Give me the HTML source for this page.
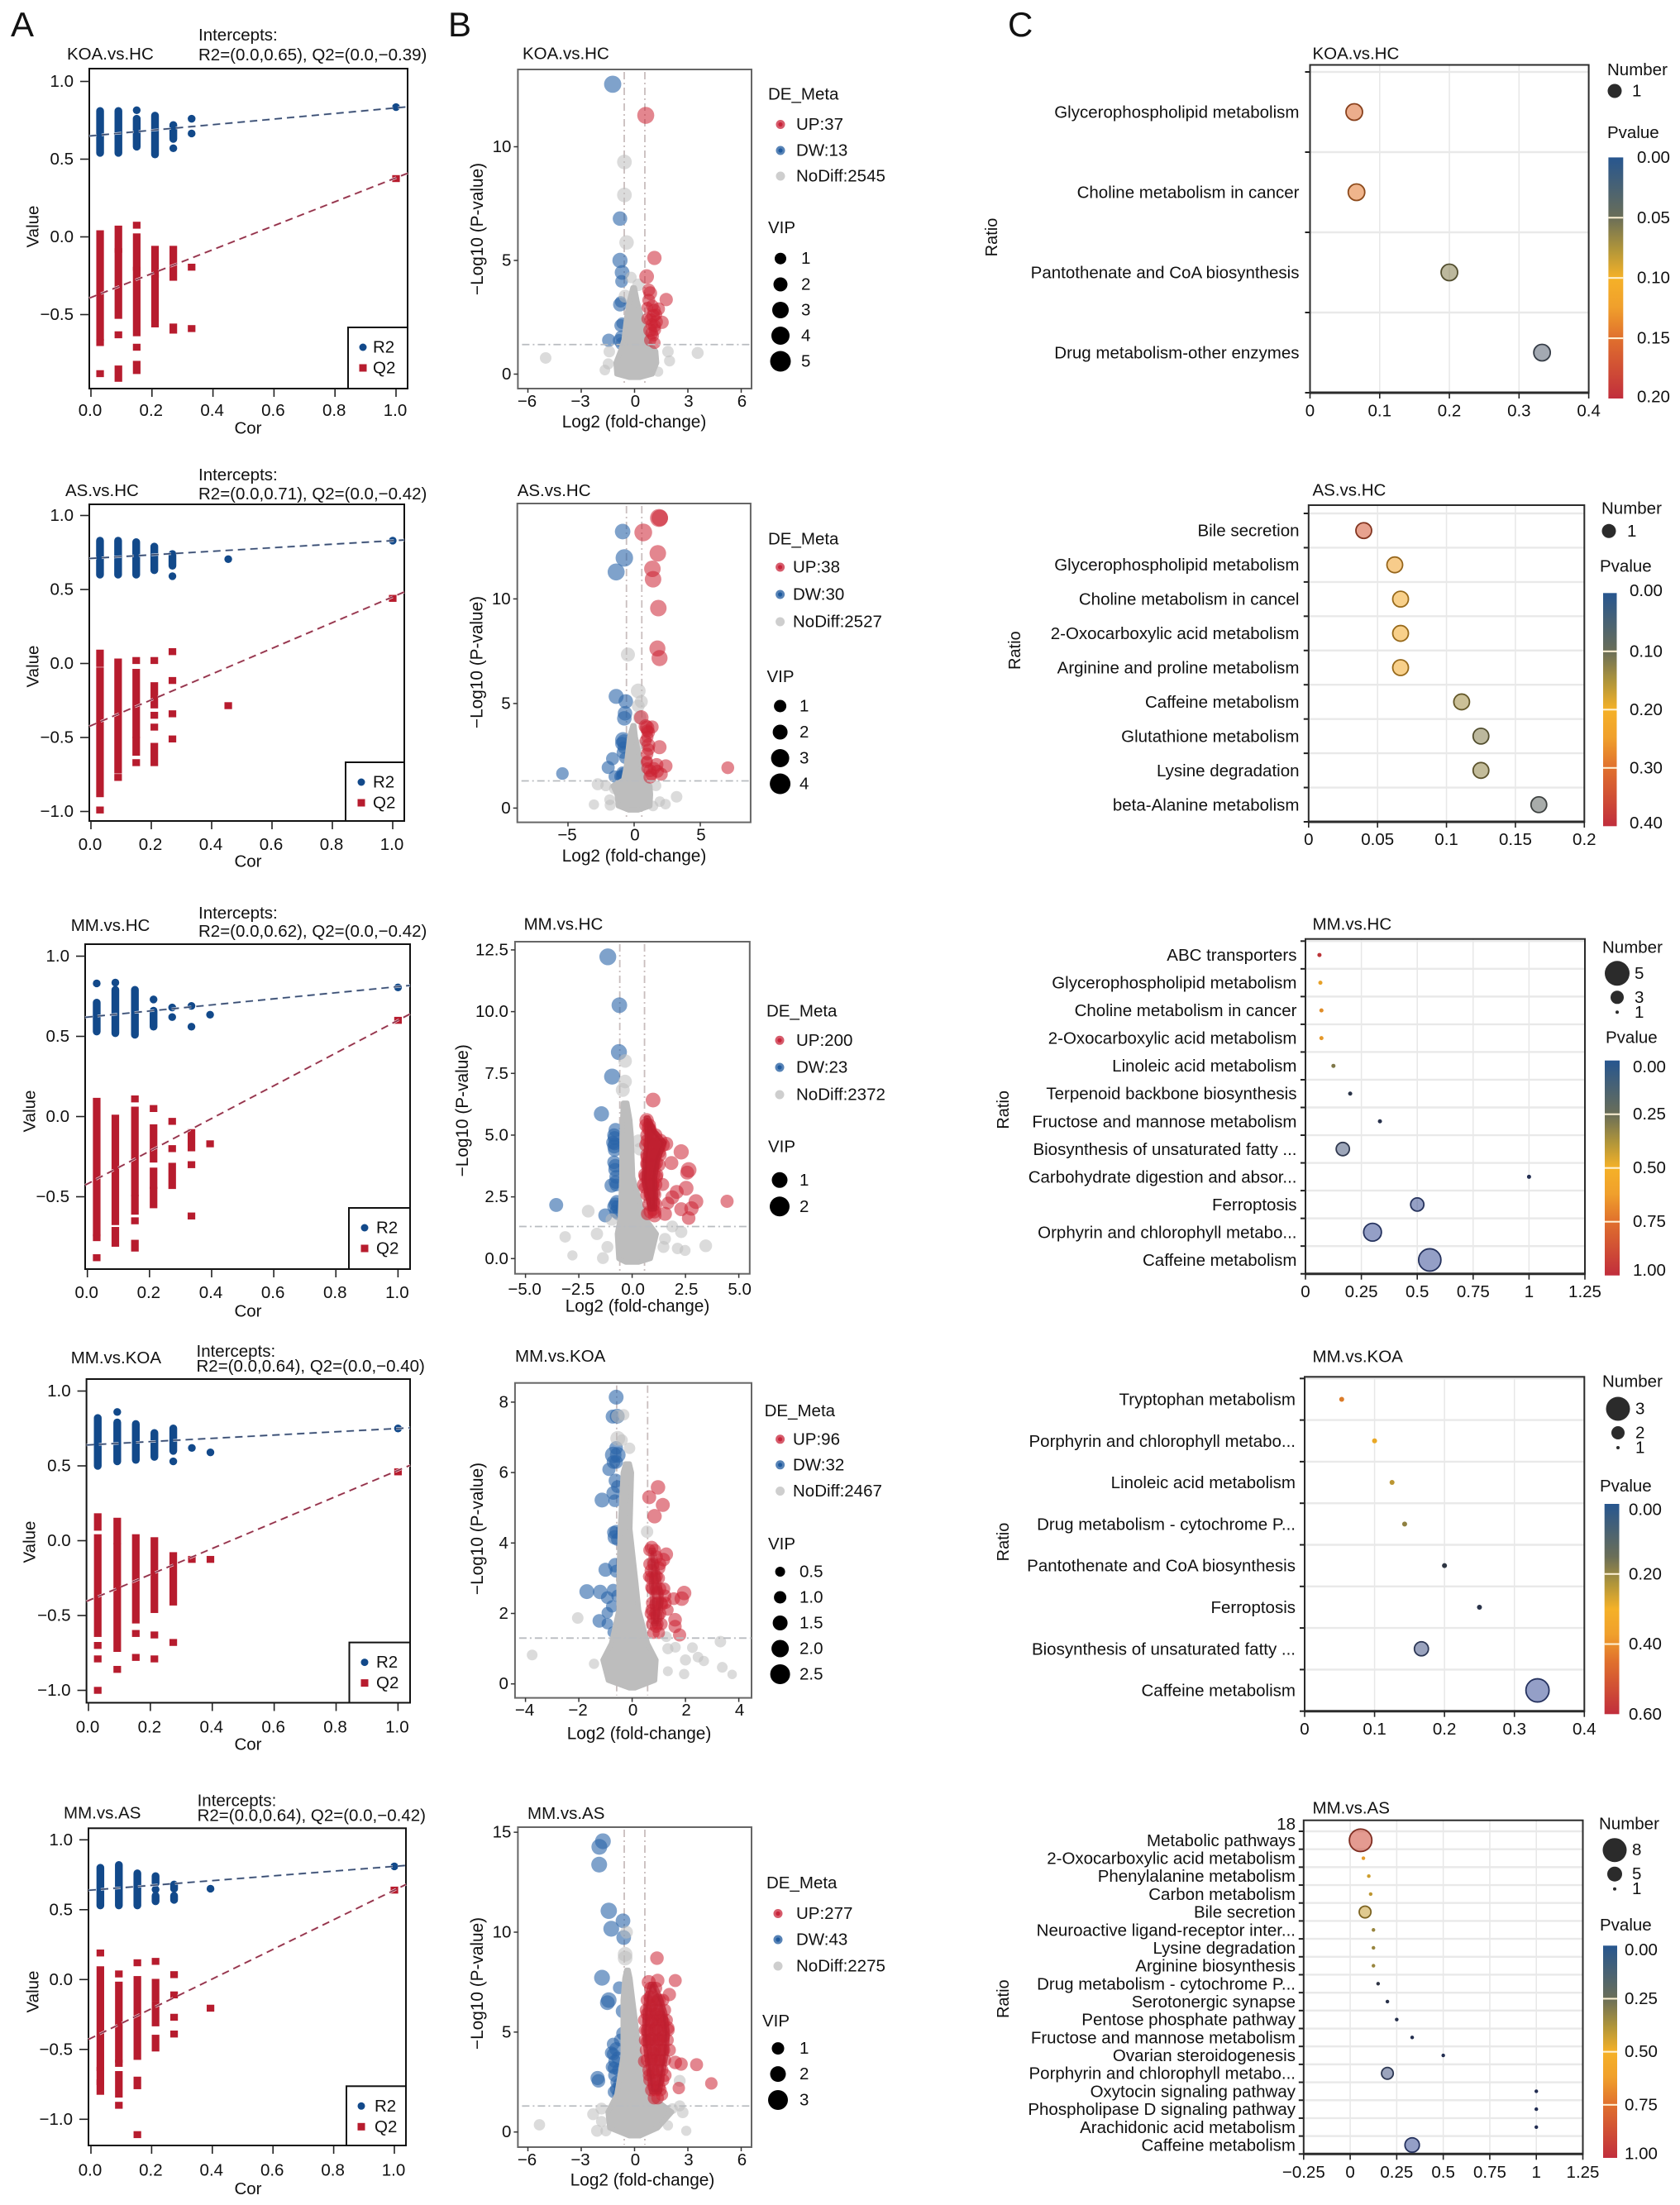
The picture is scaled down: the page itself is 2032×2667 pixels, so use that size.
<!DOCTYPE html>
<html lang="en">
<head>
<meta charset="utf-8">
<title>Metabolomics panels</title>
<style>
html,body{margin:0;padding:0;background:#fff}
svg{display:block}
text{font-family:"Liberation Sans",sans-serif;fill:#111}
</style>
</head>
<body>
<svg id="fig" xmlns="http://www.w3.org/2000/svg" width="2032" height="2667" viewBox="0 0 2032 2667">
<defs>
<linearGradient id="pGrad" x1="0" y1="0" x2="0" y2="1">
<stop offset="0" stop-color="#27568f"/><stop offset="0.25" stop-color="#6a6e58"/><stop offset="0.38" stop-color="#b0953a"/><stop offset="0.5" stop-color="#f5b128"/><stop offset="0.62" stop-color="#f0a02c"/><stop offset="0.75" stop-color="#e0702d"/><stop offset="1" stop-color="#c12e3c"/>
</linearGradient>
</defs>
<rect x="0" y="0" width="2032" height="2667" fill="#fff"/>
<text x="13" y="44" font-size="42">A</text>
<text x="542" y="44" font-size="42">B</text>
<text x="1219" y="44" font-size="42">C</text>
</svg>
<script>
/* ---------- Panel A: permutation test values ---------- */
const corKoaHc=[.03,.09,.15,.21,.27,.33,1];
const r2KoaHc=[[[.54,.81]],[[.54,.81]],[[.815,.815],[.58,.76]],[[.53,.78]],[[.63,.72],[.57,.57]],[[.76,.76],[.665,.665]],[[.835,.835]]];
const q2KoaHc=[[[-.645,.02],[-.68,-.68],[-.88,-.88]],[[-.08,.05],[-.505,-.095],[-.63,-.63],[-.91,-.85]],[[.075,.075],[-.195,0],[-.617,-.215],[-.71,-.71],[-.86,-.82]],[[-.24,-.08],[-.52,-.265],[-.56,-.56]],[[-.26,-.08],[-.6,-.58]],[[-.195,-.195],[-.59,-.59]],[[.375,.375]]];
const r2FitKoaHc=[.65,.83];
const q2FitKoaHc=[-.39,.38];

const corAsHc=[.03,.09,.15,.21,.27,.455,1];
const r2AsHc=[[[.6,.83]],[[.6,.83]],[[.6,.82]],[[.63,.79]],[[.66,.74],[.59,.59]],[[.705,.705]],[[.83,.83]]];
const q2AsHc=[[[0,.07],[-.88,-.05],[-.99,-.99]],[[-.72,.01],[-.77,-.77]],[[.02,.02],[-.48,-.06],[-.6,-.52],[-.67,-.67]],[[.02,.02],[-.28,-.15],[-.35,-.35],[-.43,-.43],[-.67,-.56]],[[.08,.08],[-.115,-.115],[-.34,-.34],[-.51,-.51]],[[-.285,-.285]],[[.44,.44]]];
const r2FitAsHc=[.71,.83];
const q2FitAsHc=[-.42,.45];

const corMmHc=[.03,.09,.153,.213,.273,.335,.395,1];
const r2MmHc=[[[.83,.83],[.53,.71]],[[.835,.835],[.52,.79]],[[.51,.79]],[[.73,.73],[.56,.66]],[[.68,.68],[.62,.62]],[[.69,.69],[.56,.56]],[[.635,.635]],[[.805,.805]]];
const q2MmHc=[[[-.725,.095],[-.755,-.755],[-.88,-.88]],[[-.655,-.01],[-.79,-.71]],[[.11,.11],[-.475,.04],[-.59,-.51],[-.65,-.65],[-.82,-.79]],[[.05,.05],[-.265,-.07],[-.43,-.34],[-.55,-.46]],[[-.03,-.03],[-.2,-.2],[-.43,-.31]],[[-.195,-.1],[-.3,-.3],[-.62,-.62]],[[-.17,-.17]],[[.6,.6]]];
const r2FitMmHc=[.62,.81];
const q2FitMmHc=[-.42,.6];

const corMmKoa=[.03,.093,.153,.213,.274,.334,.394,1];
const r2MmKoa=[[[.5,.82]],[[.86,.86],[.53,.79]],[[.54,.78]],[[.56,.72]],[[.6,.75],[.53,.53]],[[.62,.62]],[[.59,.59]],[[.75,.75]]];
const q2MmKoa=[[[.09,.16],[-.62,.02],[-.7,-.7],[-.79,-.79],[-1,-1]],[[0,.13],[-.72,-.04],[-.86,-.86]],[[-.53,.02],[-.62,-.62],[-.78,-.78]],[[-.46,0],[-.63,-.63],[-.79,-.79]],[[-.41,-.1],[-.68,-.68]],[[-.125,-.125]],[[-.125,-.125]],[[.46,.46]]];
const r2FitMmKoa=[.64,.75];
const q2FitMmKoa=[-.4,.47];

const corMmAs=[.031,.092,.153,.213,.274,.394,1];
const r2MmAs=[[[.53,.8]],[[.53,.82]],[[.53,.76]],[[.69,.74],[.645,.645],[.56,.6]],[[.65,.68],[.57,.6]],[[.65,.65]],[[.81,.81]]];
const q2MmAs=[[[.19,.19],[-.63,.07],[-.73,-.65],[-.8,-.74]],[[.04,.04],[-.57,-.04],[-.6,-.6],[-.82,-.68],[-.9,-.9]],[[.12,.12],[-.55,0],[-.76,-.72],[-1.11,-1.11]],[[.13,.13],[-.13,-.02],[-.31,-.18],[-.49,-.42]],[[.035,.035],[-.11,-.11],[-.27,-.27],[-.39,-.39]],[[-.205,-.205]],[[.64,.64]]];
const r2FitMmAs=[.64,.81];
const q2FitMmAs=[-.42,.64];

const corTicks=[0,.2,.4,.6,.8,1];
const valueTicksShort=[1,.5,0,-.5];
const valueTicksLong=[1,.5,0,-.5,-1];

/* ---------- Panel B: volcano values, each point [log2FC, -log10P, VIP] ---------- */
const upKoaHc=[[.63,11.38,3.4],[1.12,5.11,2.2],[.68,4.29,2.4],[1.78,3.28,1.8],[.88,3.56,2],[.8,3.25,1.6],[1.1,2.8,1.8],[1.35,2.87,1.6],[1.05,2.56,2],[1.55,2.28,1.8],[1.22,2.3,1.8],[.88,1.93,2],[1.13,2.12,1.6],[.97,1.8,1.6],[.88,1.49,1.3],[1.13,1.37,1.2],[.72,2.93,1],[.72,2.43,1.2],[1.05,1.68,1],[.97,2.18,1.4],[1.22,2.62,1.2],[.8,3.7,1.6],[1,3,1.5],[.9,2.4,1.5],[1.15,1.95,1.3]];
const dwKoaHc=[[-1.23,12.75,3.5],[-.82,6.84,2.3],[-.82,5,2.6],[-.7,4.47,2.4],[-.73,4.08,1.5],[-.82,3.06,2],[-.78,2.14,1.5],[-.75,1.65,1.3],[-1.45,1.49,1.8],[-.73,1.34,1.5],[-.87,1.49,1.4],[-.7,2.24,1],[-.78,3.18,1]];
const nsKoaHc=[[-.57,9.33,2.4],[-.57,7.88,2.4],[-.45,5.79,2.3],[-.2,4.25,1],[.22,3.93,1.4],[-.53,3.43,1.6],[-5,.71,1],[3.55,.93,1.2],[1.88,.99,1],[1.97,.58,.8],[-1.42,.99,1],[-1.48,.45,.8],[-1.67,.18,.6],[1.33,.11,.4]];
const massKoaHc=[[-.15,-.3,.3],[0,-1,1],[.5,-1.05,1.25],[1,-.8,1.2],[1.5,-.6,.7],[2.5,-.45,.4],[3.2,-.3,.15],[3.8,-.1,0]];

const upAsHc=[[1.88,13.87,3.6],[1.94,13.87,3],[.69,13.18,3.5],[1.79,12.18,3],[1.38,11.44,3],[1.43,10.94,3],[1.83,9.56,3],[1.76,7.63,2.8],[1.92,7.17,2.8],[7.08,1.93,1.5],[.54,4.33,2.2],[1.36,3.88,1.6],[.98,3.84,2.2],[.87,3.91,2],[1.09,3.63,1.6],[1.92,2.91,2],[1.09,3.01,1.8],[.98,2.59,1.4],[.98,2.25,1],[1.7,2.07,1.8],[2.39,2.01,1.8],[1.2,1.79,1.6],[1.76,1.76,1.6],[2.05,1.62,1.6],[1.2,1.48,1.6],[.87,3.22,1.2],[1,3.4,1.3],[1.1,2.8,1.3],[.95,2.2,1.2],[1,1.9,1.2],[1.3,1.6,1.3],[1.5,1.9,1.4],[1,3.7,1.4]];
const dwAsHc=[[-.87,13.22,2.6],[-.74,11.96,3.4],[-1.36,11.29,3.2],[-1.36,5.34,2.4],[-.63,5.1,2.2],[-.69,4.53,2.2],[-.74,4.29,2.2],[-.85,3.26,2.6],[-.76,3.18,2.2],[-.92,3.08,1.8],[-.85,2.66,1.4],[-1.63,2.36,1.6],[-1.96,1.94,1.6],[-.87,1.69,1.4],[-1.03,1.51,1.4],[-1.47,1.51,1.3],[-5.42,1.65,1.4],[-.69,2.39,1],[-.8,2.9,1.2],[-.95,1.5,1.2],[-.85,1.55,1.2],[-.8,1.65,1.2]];
const nsAsHc=[[-.47,7.34,2],[.31,5.6,2.3],[.54,5.09,1.6],[.31,4.88,1.5],[.42,4.33,1.8],[.42,3,1],[-2.75,1.14,1.2],[3.21,.54,1],[-3.04,.17,.5],[-1.81,.14,.8],[1.94,.31,.6],[2.37,.19,.6],[-1.85,.4,.7],[1.43,.1,.6],[1.65,1.07,.7],[-1.47,.93,.9],[-2.14,1.07,.8]];
const massAsHc=[[-.1,-.4,.3],[.1,-1.2,1.2],[.65,-1.3,1.25],[1.07,-1.6,1.2],[1.35,-.8,.7],[2,-.6,.55],[3.4,-.35,.1],[3.95,-.1,0]];

const upMmHc=[[.98,6.42,1.5],[.68,5.6,1.4],[.78,5.27,1.4],[.98,4.93,1.4],[1.33,4.77,1.3],[1.6,4.65,1.3],[.84,4.65,1.3],[1.19,4.43,1.3],[2.3,4.32,1.6],[.98,4.21,1.3],[.71,3.87,1.3],[1.12,3.87,1.3],[1.84,3.87,1.3],[2.65,3.59,1.7],[2.58,3.48,1.3],[.84,3.54,1.3],[.64,3.31,1.3],[1.12,3.31,1.3],[.91,2.98,1.3],[1.43,3,1.1],[2.53,2.85,1.5],[.98,2.65,1.3],[2.09,2.7,1.3],[1.88,2.48,1.3],[.98,2.31,1.3],[2.99,2.31,1.5],[4.45,2.32,1.1],[1.68,2.25,1],[.98,1.98,1],[2.3,2,1.3],[2.78,2.03,1.4],[2.65,1.64,1.2],[1.05,1.75,1.3],[1.54,1.81,1.3],[.71,1.81,1],[.57,2.87,.7],[.71,4.1,1.2],[.84,3.31,1.2],[.98,3.76,1.2],[1.26,4.32,1.2],[.71,4.77,1.2],[.98,2.98,1],[.84,2.65,1],[.84,5.21,1.2],[.65,5.4,1.2],[.8,5.4,1.2],[.7,5,1.2],[.9,5,1.2],[1.1,5,1.2],[.65,4.6,1.2],[.85,4.6,1.2],[1.05,4.6,1.2],[1.3,4.6,1.2],[1.45,4.6,1.2],[.7,4.2,1.2],[.9,4.2,1.2],[1.1,4.2,1.2],[1.3,4.2,1.2],[.7,3.8,1.2],[.9,3.8,1.2],[1.05,3.8,1.2],[1.25,3.8,1.2],[.6,3.4,1.2],[.8,3.4,1.2],[1,3.4,1.2],[1.15,3.4,1.2],[.55,3,1.2],[.75,3,1.2],[.95,3,1.2],[1.1,3,1.2],[.7,2.6,1.2],[.85,2.6,1.2],[1.05,2.6,1.2],[.8,2.2,1.2],[1,2.2,1.2],[1.1,2.2,1.2],[.85,1.9,1.2],[1.05,1.9,1.2]];
const dwMmHc=[[-1.14,12.22,2],[-.6,10.26,1.7],[-.62,8.36,1.8],[-.94,7.37,1.8],[-1.44,5.86,1.6],[-3.56,2.17,1.3],[-.78,5.21,1.3],[-.82,4.88,1.3],[-.84,4.54,1.3],[-.79,3.76,1.2],[-.75,3.31,1.2],[-.96,2.96,1.4],[-.79,2.2,1.2],[-.68,2.09,1.2],[-1.26,1.75,1.3],[-.65,1.81,1],[-.82,4.65,1.1],[-.75,2.98,1],[-.85,5,1.2],[-.9,4.7,1.2],[-.82,4.4,1.2],[-.8,3.6,1.2],[-.85,3.9,1.2],[-.78,3.1,1.2],[-.72,2.3,1.2],[-.85,2.1,1.2],[-.75,1.9,1.2]];
const nsMmHc=[[-.33,8,1.2],[-.33,7.17,1.2],[-.44,6.83,1.3],[-2.06,1.92,1],[-3.14,.88,.7],[-1.65,1,.9],[-1.16,.47,.8],[-2.8,.13,.4],[-1.37,.02,.8],[3.45,.52,1],[2.13,.41,.7],[2.48,.33,.6],[2.3,1.08,.9],[1.88,1.3,.8],[1.54,.8,.8],[1.47,.47,.8],[.36,4.43,1],[.29,4.77,1],[-.96,1.58,.9]];
const massMmHc=[[-.15,-.3,.3],[0,-.63,.86],[1,-.7,1.14],[1.65,-.56,.59],[3.3,-.49,.03],[5,-.48,-.04],[5.6,-.45,-.1],[6.3,-.42,-.24]];
const upCoreMmHc=[[2,.85,1.05],[2.6,.7,1.1],[3.2,.55,1.05],[4,.6,1.2],[4.7,.7,1.5],[5.2,.7,1],[5.7,.65,.75]];

const upMmKoa=[[.97,5.58,1.7],[.64,5.3,1.6],[1.15,5.08,1.6],[.84,4.76,1.7],[.73,3.87,1.5],[.9,3.6,1.5],[1.28,3.68,1.5],[1.17,3.53,1.5],[.73,3.21,1.6],[1,3.29,1.4],[.9,3.05,1.4],[.73,2.74,1.3],[.95,2.58,1.5],[1.95,2.58,1.7],[1.23,2.5,1.3],[1.56,2.42,1.3],[1.86,2.42,1.7],[.9,2.26,1.6],[.95,1.94,1.6],[.73,2.1,1.2],[1.61,1.82,1.5],[1.61,1.63,1.4],[1.78,1.39,1.4],[.9,1.63,1.3],[1.34,2.1,1],[.62,3.05,1],[.79,1.87,1.2],[1.12,2.26,1.3],[.65,3.8,1.2],[.85,3.8,1.2],[.65,3.4,1.2],[.8,3.4,1.2],[1.05,3.4,1.2],[.7,3,1.2],[.85,3,1.2],[1,3,1.2],[.75,2.7,1.2],[.9,2.7,1.2],[1.05,2.7,1.2],[1.2,2.7,1.2],[.75,2.3,1.2],[.95,2.3,1.2],[1.1,2.3,1.2],[1.25,2.3,1.2],[.7,2,1.2],[.85,2,1.2],[1.05,2,1.2],[.75,1.7,1.2],[.95,1.7,1.2],[1.1,1.7,1.2],[.8,1.45,1.2],[1,1.45,1.2]];
const dwMmKoa=[[-.6,8.14,1.8],[-.73,7.59,1.6],[-.56,7.6,1.8],[-.71,6.5,2.2],[-.54,6.5,2],[-.87,6.09,1.4],[-.62,5.77,1.6],[-.71,5.42,1.5],[-1.13,5.22,1.8],[-.6,4.32,1.5],[-.65,4.16,1.7],[-1,3.24,1.6],[-.63,3.37,1.7],[-1.7,2.62,1.8],[-1.2,2.61,1.7],[-.71,2.66,1.3],[-.93,2.45,1.3],[-.93,2.02,1],[-1.23,1.79,1.5],[-.93,1.71,1],[-.71,1.47,1],[-.6,6.7,1.5],[-.7,6.3,1.5],[-.6,6.3,1.5],[-.55,5.6,1.3],[-.65,5.2,1.3],[-.55,4.1,1.3],[-.7,4.3,1.3],[-.6,3.2,1.3],[-.55,2.5,1.2],[-.75,2.2,1.2]];
const nsMmKoa=[[-.54,7.6,1.4],[-.32,7.64,1],[-.54,6.97,1.8],[-.38,6.92,1],[-.1,6.69,1],[.56,4.32,1.2],[-2.04,1.87,1],[-3.75,.82,.8],[3.31,1.2,1],[2.26,1.03,.8],[2.47,.76,.8],[2.69,.65,.7],[2,.68,.9],[3.38,.47,.8],[3.75,.27,.5],[1.95,.28,.7],[1.34,.36,.6],[-1.43,.57,.7],[1.34,1,.9],[1.62,1.04,.8],[1.28,1.34,.8]];
const massMmKoa=[[-.12,-.1,.1],[.1,-.9,.85],[.68,-1.1,.9],[1.15,-.78,.58],[2.1,-.5,.25],[2.9,-.5,.14],[4.4,-.45,-.08],[6,-.34,-.02],[6.25,-.25,-.1]];
const upCoreMmKoa=[[1.7,.8,1],[2.4,.75,1.1],[3.2,.7,.95],[3.8,.7,.8]];

const upMmAs=[[1.26,8.7,1.6],[.8,7.5,1.8],[1.3,7.58,1.6],[2.29,7.58,1.4],[.88,6.75,1.6],[1.96,6.88,1.5],[1.38,6.6,1.5],[.71,5.9,1.5],[1.21,5.9,1.5],[1.63,5.49,1.4],[.71,5.07,1.5],[1.21,5.21,1.5],[1.88,5.21,1.4],[.71,4.52,1.4],[1.38,4.66,1.4],[1.96,4.1,1.4],[.55,3.54,1.3],[1.05,3.96,1.4],[1.54,4.1,1.4],[2.29,3.48,1.6],[2.62,3.4,1.5],[3.49,3.37,1.4],[4.32,2.43,1.2],[2.49,2.2,1.2],[1.05,2.98,1.5],[1.71,2.84,1.5],[1.38,2.29,1.3],[1.54,1.87,1.2],[.96,6.32,1.4],[1.46,5.77,1.4],[.96,5.49,1.4],[1.63,4.79,1.4],[.96,4.66,1.4],[.96,3.68,1.4],[1.38,3.54,1.3],[.8,2.84,1],[1.05,2.29,1.1],[.9,7.2,1.3],[1.2,7.2,1.3],[.7,6.6,1.3],[1,6.6,1.3],[1.3,6.6,1.3],[1.6,6.6,1.3],[.65,6.1,1.3],[.9,6.1,1.3],[1.15,6.1,1.3],[1.4,6.1,1.3],[1.7,6.1,1.3],[.55,5.6,1.3],[.8,5.6,1.3],[1.05,5.6,1.3],[1.3,5.6,1.3],[1.55,5.6,1.3],[1.8,5.6,1.3],[.6,5.1,1.3],[.85,5.1,1.3],[1.1,5.1,1.3],[1.35,5.1,1.3],[1.6,5.1,1.3],[1.9,5.1,1.3],[.6,4.6,1.3],[.85,4.6,1.3],[1.1,4.6,1.3],[1.35,4.6,1.3],[1.6,4.6,1.3],[1.85,4.6,1.3],[.65,4.1,1.3],[.9,4.1,1.3],[1.15,4.1,1.3],[1.4,4.1,1.3],[1.65,4.1,1.3],[.7,3.6,1.3],[.95,3.6,1.3],[1.2,3.6,1.3],[1.45,3.6,1.3],[1.7,3.6,1.3],[.8,3.1,1.3],[1.05,3.1,1.3],[1.3,3.1,1.3],[1.55,3.1,1.3],[.85,2.6,1.3],[1.1,2.6,1.3],[1.35,2.6,1.3],[1.6,2.6,1.3],[.95,2.1,1.3],[1.2,2.1,1.3],[1.45,2.1,1.3],[1.1,1.7,1.3],[1.3,1.7,1.3]];
const dwMmAs=[[-1.78,14.55,2.4],[-1.98,14.27,2.4],[-1.99,13.38,2.4],[-1.45,11.07,2.6],[-1.31,10.17,2.4],[-.65,10.57,2],[-.61,9.73,2],[-1.83,7.72,2.4],[-1.45,6.6,2.3],[-1.53,6.47,2],[-.66,6.05,1.8],[-.86,7.22,1.3],[-.65,4.93,1.6],[-1.03,4.15,1.7],[-1.31,3.96,1.3],[-1.11,3.54,1.4],[-1.28,3.26,1.1],[-1.11,2.84,1.5],[-2.08,2.7,1.8],[-2.03,2.56,1.6],[-.78,2.2,1.6],[-1.03,2.15,1.2],[-.78,1.64,1],[-1.2,3.9,1.3],[-.95,3.7,1.3],[-1.15,3.2,1.3],[-.9,3.1,1.3],[-1,2.5,1.3],[-.85,2.4,1.3],[-1.15,2,1.3],[-.9,1.9,1.3],[-1.2,4.4,1.3],[-.8,4.6,1.3]];
const nsMmAs=[[-.53,8.89,2],[-.53,8.7,2],[-.45,10,1.3],[-5.35,.36,.8],[-2.11,.06,1],[-2.33,.89,1],[-1.86,1.17,1],[-1.61,.06,.7],[-1.86,.53,.7],[2.91,.06,.4],[2.71,.98,.9],[2.54,1.31,.7],[2.54,2.56,1],[1.88,.33,.4],[2.13,1.17,.6]];
const massMmAs=[[-.2,-.3,.3],[.2,-1.4,1.3],[1,-1.5,2.1],[1.87,-1,.8],[3.8,-.65,.3],[6.6,-.65,-.1],[7.7,-.55,-.25],[8.1,-.45,-.35]];
const upCoreMmAs=[[2,.95,1.4],[3,.8,1.6],[4,.65,1.8],[5,.55,1.85],[6,.6,1.7],[6.8,.7,1.4],[7.4,.9,1.1]];

/* ---------- Panel C: enrichment values ---------- */
const pathsKoaHc=["Glycerophospholipid metabolism","Choline metabolism in cancer","Pantothenate and CoA biosynthesis","Drug metabolism-other enzymes"];
const ratioKoaHc=[.0635,.0667,.2,.333];
const numberKoaHc=[1,1,1,1];
const pvalKoaHc=[.155,.145,.06,.03];
const pTicksKoaHc=[0,.05,.1,.15,.2];

const pathsAsHc=["Bile secretion","Glycerophospholipid metabolism","Choline metabolism in cancel","2-Oxocarboxylic acid metabolism","Arginine and proline metabolism","Caffeine metabolism","Glutathione metabolism","Lysine degradation","beta-Alanine metabolism"];
const ratioAsHc=[.04,.0625,.0667,.0667,.0667,.111,.125,.125,.167];
const numberAsHc=[1,1,1,1,1,1,1,1,1];
const pvalAsHc=[.34,.24,.22,.22,.22,.14,.12,.13,.08];
const pTicksAsHc=[0,.1,.2,.3,.4];

const pathsMmHc=["ABC transporters","Glycerophospholipid metabolism","Choline metabolism in cancer","2-Oxocarboxylic acid metabolism","Linoleic acid metabolism","Terpenoid backbone biosynthesis","Fructose and mannose metabolism","Biosynthesis of unsaturated fatty ...","Carbohydrate digestion and absor...","Ferroptosis","Orphyrin and chlorophyll metabo...","Caffeine metabolism"];
const ratioMmHc=[.0625,.0667,.0714,.0714,.125,.2,.333,.167,1,.5,.3,.556];
const numberMmHc=[1,1,1,1,1,1,1,3,1,3,4,5];
const pvalMmHc=[.97,.55,.65,.62,.3,.1,.07,.1,.03,.02,.01,.01];
const pTicksMmHc=[0,.25,.5,.75,1];

const pathsMmKoa=["Tryptophan metabolism","Porphyrin and chlorophyll metabo...","Linoleic acid metabolism","Drug metabolism - cytochrome P...","Pantothenate and CoA biosynthesis","Ferroptosis","Biosynthesis of unsaturated fatty ...","Caffeine metabolism"];
const ratioMmKoa=[.053,.1,.125,.143,.2,.25,.167,.333];
const numberMmKoa=[1,1,1,1,1,1,2,3];
const pvalMmKoa=[.42,.3,.25,.2,.08,.05,.04,.005];
const pTicksMmKoa=[0,.2,.4,.6];

const pathsMmAs=["Metabolic pathways","2-Oxocarboxylic acid metabolism","Phenylalanine metabolism","Carbon metabolism","Bile secretion","Neuroactive ligand-receptor inter...","Lysine degradation","Arginine biosynthesis","Drug metabolism - cytochrome P...","Serotonergic synapse","Pentose phosphate pathway","Fructose and mannose metabolism","Ovarian steroidogenesis","Porphyrin and chlorophyll metabo...","Oxytocin signaling pathway","Phospholipase D signaling pathway","Arachidonic acid metabolism","Caffeine metabolism"];
const ratioMmAs=[.056,.071,.1,.11,.08,.125,.125,.125,.15,.2,.25,.333,.5,.2,1,1,1,.333];
const numberMmAs=[8,1,1,1,4,1,1,1,1,1,1,1,1,4,1,1,1,5];
const pvalMmAs=[.9,.6,.45,.42,.42,.35,.35,.35,.12,.08,.06,.04,.03,.08,.02,.02,.02,.01];
const pTicksMmAs=[0,.25,.5,.75,1];

/* ---------- helpers ---------- */
const NS='http://www.w3.org/2000/svg';
const fig=document.getElementById('fig');
function mark(tag,attrs,parent,name,interactable){
  const el=document.createElementNS(NS,tag);
  for(const k in attrs){el.setAttribute(k,attrs[k]);}
  
  
  parent.appendChild(el);
  return el;
}
function label(parent,str,x,y,opts,name){
  const o=opts||{};
  const a={x:x,y:y,'font-size':o.size||20.5,'text-anchor':o.anchor||'start'};
  if(o.central){a['dominant-baseline']='central';}
  if(o.rot){a.transform='rotate(-90 '+x+' '+y+')';}
  const t=mark('text',a,parent,name,false);
  t.textContent=str;
  return t;
}
function group(name){return mark('g',{},fig,name,false);}
function linear(d0,p0,d1,p1){const k=(p1-p0)/(d1-d0);return v=>p0+(v-d0)*k;}
function fmt(v,dec){const s=Math.abs(v).toFixed(dec);return (v<0?'\u2212':'')+s;}

/* ---------- Panel A renderer ---------- */
function drawPerm(c){
  const g=group(c.id+'-permutation-plot');
  const [bx0,by0,bx1,by1]=c.box;
  const sx=linear(0,c.x0,1,c.x1), sy=linear(0,c.y0,1,c.y1);
  label(g,c.title,c.titleX,c.titleY,{},'plot-title');
  label(g,'Intercepts:',c.intX,c.intY[0],{},'intercepts-heading');
  label(g,'R2=(0.0,'+c.r2Fit[0].toFixed(2)+'), Q2=(0.0,'+fmt(c.q2Fit[0],2)+')',c.intX,c.intY[1],{},'intercepts-values');
  mark('rect',{x:bx0,y:by0,width:bx1-bx0,height:by1-by0,fill:'#fff',stroke:'#111','stroke-width':2},g,'plot-frame',false);
  corTicks.forEach(v=>{
    mark('line',{x1:sx(v),x2:sx(v),y1:by1,y2:by1+10,stroke:'#222','stroke-width':1.6},g,'x-tick',false);
    label(g,v.toFixed(1),sx(v)-1,c.xTickY,{anchor:'middle',central:true},'x-tick-label');
  });
  c.yTicks.forEach(v=>{
    mark('line',{x1:bx0-11,x2:bx0,y1:sy(v),y2:sy(v),stroke:'#222','stroke-width':1.6},g,'y-tick',false);
    label(g,fmt(v,1),bx0-19,sy(v),{anchor:'end',central:true},'y-tick-label');
  });
  label(g,'Cor',300,c.corY,{anchor:'middle',central:true},'x-axis-title');
  label(g,'Value',c.valueX,c.valueY,{anchor:'middle',central:true,rot:true},'y-axis-title');
  c.cor.forEach((x,i)=>{
    c.r2[i].forEach(seg=>{
      mark('rect',{x:sx(x)-4.7,y:sy(seg[1])-4.7,width:9.4,height:Math.abs(sy(seg[0])-sy(seg[1]))+9.4,rx:4.7,fill:'#12498a'},g,'r2-points',false);
    });
    c.q2[i].forEach(seg=>{
      mark('rect',{x:sx(x)-4.6,y:sy(seg[1])-4.2,width:9.2,height:Math.abs(sy(seg[0])-sy(seg[1]))+8.4,fill:'#b71c2e'},g,'q2-points',false);
    });
  });
  const xEnd=(bx1-c.x0)/(c.x1-c.x0);
  const fit=(f,col,halo,name)=>{
    const yAt=x=>sy(f[0]+(f[1]-f[0])*x);
    mark('line',{x1:bx0,y1:yAt((bx0-c.x0)/(c.x1-c.x0)),x2:bx1,y2:yAt(xEnd),stroke:halo,'stroke-width':3,'stroke-dasharray':'9 6'},g,name+'-halo',false);
    mark('line',{x1:bx0,y1:yAt((bx0-c.x0)/(c.x1-c.x0)),x2:bx1,y2:yAt(xEnd),stroke:col,'stroke-width':1.7,'stroke-dasharray':'9 6'},g,name,false);
  };
  fit(c.r2Fit,'#3a4c70','#dbe5f1','r2-regression-line');
  fit(c.q2Fit,'#8e2f48','#f9dde1','q2-regression-line');
  const lg=mark('g',{},g,'plot-legend',false);
  mark('rect',{x:c.leg[0],y:c.leg[1],width:bx1-c.leg[0],height:by1-c.leg[1],fill:'#fff',stroke:'#111','stroke-width':2},lg,'legend-box',false);
  const ly1=c.leg[1]+(c.leg[4]||24), ly2=ly1+25;
  mark('circle',{cx:c.leg[2],cy:ly1,r:4.5,fill:'#12498a'},lg,'legend-r2-marker',false);
  mark('rect',{x:c.leg[2]-4.5,y:ly2-4.5,width:9,height:9,fill:'#b71c2e'},lg,'legend-q2-marker',false);
  label(lg,'R2',c.leg[3],ly1,{central:true},'legend-r2-label');
  label(lg,'Q2',c.leg[3],ly2,{central:true},'legend-q2-label');
}

/* ---------- Panel B renderer ---------- */
function drawVolcano(c){
  const g=group(c.id+'-volcano-plot');
  const [bx0,by0,bx1,by1]=c.box;
  const sx=linear(0,c.xZero,1,c.xZero+c.xUnit), sy=linear(0,c.yZero,1,c.yZero-c.yUnit);
  const rr=v=>c.rBase+c.rStep*v;
  label(g,c.title,c.titleX,c.titleY,{},'plot-title');
  mark('rect',{x:bx0,y:by0,width:bx1-bx0,height:by1-by0,fill:'#fff',stroke:'#666','stroke-width':2},g,'plot-frame',false);
  c.xTicks.forEach(v=>{
    mark('line',{x1:sx(v),x2:sx(v),y1:by1,y2:by1+5,stroke:'#333','stroke-width':1.5},g,'x-tick',false);
    label(g,fmt(v,c.xDec),sx(v)+(v<0?-1:1),c.xTickY,{anchor:'middle',central:true},'x-tick-label');
  });
  c.yTicks.forEach(v=>{
    mark('line',{x1:bx0-5,x2:bx0,y1:sy(v),y2:sy(v),stroke:'#333','stroke-width':1.5},g,'y-tick',false);
    label(g,fmt(v,c.yDec),bx0-8,sy(v),{anchor:'end',central:true},'y-tick-label');
  });
  label(g,'Log2 (fold-change)',c.xTitle[0],c.xTitle[1],{anchor:'middle',central:true,size:20.8},'x-axis-title');
  label(g,'\u2212Log10 (P-value)',c.yTitle[0],c.yTitle[1],{anchor:'middle',central:true,rot:true,size:20.8},'y-axis-title');
  [-c.fc,c.fc].forEach(v=>{
    mark('line',{x1:sx(v),x2:sx(v),y1:by0+3,y2:by1-3,stroke:'#c9bebe','stroke-width':1.8,'stroke-dasharray':'9 4 2 4'},g,'fold-change-threshold',false);
  });
  c.dw.forEach(p=>{mark('circle',{cx:sx(p[0]),cy:sy(p[1]),r:rr(p[2]),fill:'#2a64a8','fill-opacity':.6},g,'down-point',false);});
  const envelope=m=>{
    const left=m.map(b=>sx(b[1])+','+sy(b[0]));
    const right=m.slice().reverse().map(b=>sx(b[2])+','+sy(b[0]));
    return left.concat(right).join(' ');
  };
  mark('polygon',{points:envelope(c.mass),fill:'#bdbdbd',stroke:'#bdbdbd','stroke-width':6,'stroke-linejoin':'round'},g,'nodiff-density',false);
  c.ns.forEach(p=>{mark('circle',{cx:sx(p[0]),cy:sy(p[1]),r:rr(p[2]),fill:'#bdbdbd','fill-opacity':.55},g,'nodiff-point',false);});
  c.up.forEach(p=>{mark('circle',{cx:sx(p[0]),cy:sy(p[1]),r:rr(p[2]),fill:'#cc2233','fill-opacity':.55},g,'up-point',false);});
  if(c.upCore){
    mark('polygon',{points:envelope(c.upCore),fill:'#bd1f30','fill-opacity':c.upCoreAlpha,stroke:'#bd1f30','stroke-opacity':c.upCoreAlpha,'stroke-width':6,'stroke-linejoin':'round'},g,'up-density',false);
  }
  mark('line',{x1:bx0+5,x2:bx1,y1:sy(c.pThresh),y2:sy(c.pThresh),stroke:'#b9bcc0','stroke-width':1.8,'stroke-dasharray':'9 4 2 4'},g,'p-value-threshold',false);
  const lg=mark('g',{},g,'plot-legend',false);
  label(lg,'DE_Meta',c.deX,c.deY,{},'legend-title-de-meta');
  const cols=['#c8243a','#1f5a9e','#bdbdbd'];
  c.deItems.forEach((t,i)=>{
    mark('circle',{cx:c.dotX,cy:c.itemY[i],r:5.5,fill:cols[i],'fill-opacity':.75},lg,'legend-de-marker',true);
    if(i<2){mark('circle',{cx:c.dotX,cy:c.itemY[i],r:2.6,fill:cols[i]},lg,'legend-de-marker-core',false);}
    label(lg,t,c.textX,c.itemY[i],{central:true},'legend-de-label');
  });
  label(lg,'VIP',c.vipX,c.vipY,{},'legend-title-vip');
  c.vipLabels.forEach((t,i)=>{
    mark('circle',{cx:c.dotX,cy:c.vipDots[i],r:c.vipR[i],fill:'#000'},lg,'legend-vip-marker',false);
    label(lg,t,c.vipTextX,c.vipDots[i],{central:true},'legend-vip-label');
  });
}

/* ---------- Panel C renderer ---------- */
const pStops=[[0,[58,80,155]],[.25,[106,110,88]],[.38,[176,149,58]],[.5,[245,177,40]],[.62,[240,160,44]],[.75,[224,112,45]],[1,[193,46,60]]];
function pColor(t,f){
  t=Math.max(0,Math.min(1,t));
  let i=0;
  while(i<pStops.length-2&&t>pStops[i+1][0]){i++;}
  const a=pStops[i],b=pStops[i+1],u=(t-a[0])/(b[0]-a[0]);
  const col=a[1].map((v,j)=>Math.round((v+(b[1][j]-v)*u)*f));
  return 'rgb('+col.join(',')+')';
}
function drawBubble(c){
  const g=group(c.id+'-enrichment-plot');
  const [bx0,by0,bx1,by1]=c.box;
  const sx=linear(c.xTicks[0],c.xPx[0],c.xTicks[c.xTicks.length-1],c.xPx[1]);
  const n=c.paths.length, band=(c.rowBottom-c.rowTop)/n;
  const sRow=i=>c.rowTop+band*(i+.5);
  const rr=v=>c.rBase+c.rStep*(v-1);
  const pMax=c.pTicks[c.pTicks.length-1];
  label(g,c.title,1587.5,c.titleY,{},'plot-title');
  mark('rect',{x:bx0,y:by0,width:bx1-bx0,height:by1-by0,fill:'#fff'},g,'plot-area',false);
  c.xTicks.forEach(v=>{
    mark('line',{x1:sx(v),x2:sx(v),y1:by0,y2:by1,stroke:'#e7e7e7','stroke-width':1.5},g,'vertical-gridline',false);
  });
  for(let i=0;i<=n;i++){
    const y=c.rowTop+band*i;
    mark('line',{x1:bx0,x2:bx1,y1:y,y2:y,stroke:'#e9e9e9','stroke-width':2.4},g,'horizontal-gridline',false);
    mark('line',{x1:bx0-6,x2:bx0,y1:y,y2:y,stroke:'#222','stroke-width':2},g,'y-tick',false);
  }
  mark('rect',{x:bx0,y:by0,width:bx1-bx0,height:by1-by0,fill:'none',stroke:'#2b2b2b','stroke-width':2},g,'plot-frame',false);
  mark('line',{x1:bx0,x2:bx1,y1:by1,y2:by1,stroke:'#2b2b2b','stroke-width':3},g,'x-axis-line',false);
  c.xTicks.forEach((v,i)=>{
    mark('line',{x1:sx(v),x2:sx(v),y1:by1,y2:by1+7,stroke:'#222','stroke-width':1.6},g,'x-tick',false);
    label(g,c.xLabels[i],sx(v),c.xTickY,{anchor:'middle',central:true},'x-tick-label');
  });
  c.paths.forEach((p,i)=>{
    label(g,p,c.labelRight,sRow(i)+.5,{anchor:'end',central:true},'pathway-label');
    const t=c.pval[i]/pMax;
    const r=rr(c.number[i]);
    if(r<4){
      mark('circle',{cx:sx(c.ratio[i]),cy:sRow(i),r:r,fill:pColor(t,t<.2?.55:.95)},g,'pathway-bubble',false);
    }else{
      mark('circle',{cx:sx(c.ratio[i]),cy:sRow(i),r:r,fill:pColor(t,1),'fill-opacity':.55,stroke:pColor(t,.62),'stroke-width':1.8},g,'pathway-bubble',false);
    }
  });
  if(c.extraTick){label(g,c.extraTick,c.labelRight,c.extraTickY,{anchor:'end',central:true},'y-tick-label');}
  label(g,'Ratio',c.ratioPos[0],c.ratioPos[1],{anchor:'middle',central:true,rot:true,size:20},'y-axis-title');
  const lg=mark('g',{},g,'plot-legend',false);
  label(lg,'Number',c.numX,c.numY,{},'legend-title-number');
  c.numLabels.forEach((t,i)=>{
    mark('circle',{cx:c.numDotX,cy:c.numDots[i],r:c.numR[i],fill:'#2b2b2b'},lg,'legend-number-marker',false);
    label(lg,t,c.numTextX,c.numDots[i],{central:true},'legend-number-label');
  });
  label(lg,'Pvalue',c.pvX,c.pvY,{},'legend-title-pvalue');
  const [cx0,cy0,cx1,cy1]=c.bar;
  const sp=linear(0,cy0,pMax,cy1);
  mark('rect',{x:cx0,y:cy0,width:cx1-cx0,height:cy1-cy0,fill:'url(#pGrad)'},lg,'pvalue-colorbar',false);
  c.pTicks.forEach((v,i)=>{
    if(i>0&&i<c.pTicks.length-1){
      mark('rect',{x:cx0,y:sp(v)-1,width:cx1-cx0,height:2,fill:'#fff3d6'},lg,'colorbar-tick',false);
    }
    let y=sp(v);
    if(i===0){y+=c.barNudge[0];}
    if(i===c.pTicks.length-1){y+=c.barNudge[1];}
    label(lg,v.toFixed(2),c.barTextX,y,{central:true},'colorbar-label');
  });
}

/* ---------- layout ---------- */
drawPerm({id:'koa-hc',title:'KOA.vs.HC',titleX:81,titleY:72,intX:240,intY:[49,73],box:[108,83,493,470],x0:110,x1:479,y0:286.5,y1:98.5,yTicks:valueTicksShort,xTickY:496.5,corY:518,valueX:40,valueY:274,cor:corKoaHc,r2:r2KoaHc,q2:q2KoaHc,r2Fit:r2FitKoaHc,q2Fit:q2FitKoaHc,leg:[421,396,439,451]});
drawPerm({id:'as-hc',title:'AS.vs.HC',titleX:79,titleY:600,intX:240,intY:[581,604],box:[108,610,489,993],x0:110,x1:475,y0:802.5,y1:623.5,yTicks:valueTicksLong,xTickY:1021.5,corY:1042,valueX:40,valueY:806,cor:corAsHc,r2:r2AsHc,q2:q2AsHc,r2Fit:r2FitAsHc,q2Fit:q2FitAsHc,leg:[418,922,437,451]});
drawPerm({id:'mm-hc',title:'MM.vs.HC',titleX:85.7,titleY:1126,intX:240,intY:[1111,1133],box:[103,1142,496,1535],x0:105.7,x1:481.4,y0:1350.5,y1:1156.5,yTicks:valueTicksShort,xTickY:1563.5,corY:1586,valueX:36,valueY:1344,cor:corMmHc,r2:r2MmHc,q2:q2MmHc,r2Fit:r2FitMmHc,q2Fit:q2FitMmHc,leg:[422,1461,441,455]});
drawPerm({id:'mm-koa',title:'MM.vs.KOA',titleX:85.7,titleY:1649,intX:237.5,intY:[1641,1659],box:[104.6,1668,496,2059.5],x0:107,x1:481.4,y0:1863.5,y1:1682.5,yTicks:valueTicksLong,xTickY:2089,corY:2110,valueX:36,valueY:1865,cor:corMmKoa,r2:r2MmKoa,q2:q2MmKoa,r2Fit:r2FitMmKoa,q2Fit:q2FitMmKoa,leg:[422.5,1986.6,441,455]});
drawPerm({id:'mm-as',title:'MM.vs.AS',titleX:77,titleY:2199.3,intX:238.6,intY:[2184.3,2202.7],box:[107,2211.3,491,2595],x0:110,x1:477,y0:2394.3,y1:2225.3,yTicks:valueTicksLong,xTickY:2625,corY:2647.3,valueX:40,valueY:2409,cor:corMmAs,r2:r2MmAs,q2:q2MmAs,r2Fit:r2FitMmAs,q2Fit:q2FitMmAs,leg:[419,2523.3,437,453]});

drawVolcano({id:'koa-hc',title:'KOA.vs.HC',titleX:632,titleY:71.6,box:[626.4,84,909,470],xZero:767.5,xUnit:21.5,yZero:452.5,yUnit:27.5,rBase:5.6,rStep:1.38,xTicks:[-6,-3,0,3,6],xDec:0,yTicks:[0,5,10],yDec:0,xTickY:485.5,xTitle:[767,510.7],yTitle:[577.5,277],fc:.58,pThresh:1.3,up:upKoaHc,dw:dwKoaHc,ns:nsKoaHc,mass:massKoaHc,deX:929,deY:120.5,dotX:944,textX:963,itemY:[150.5,182,213],deItems:['UP:37','DW:13','NoDiff:2545'],vipX:929,vipY:282,vipLabels:['1','2','3','4','5'],vipDots:[312.7,344,375,406,437],vipR:[7,8.5,10,11,12.5],vipTextX:969});
drawVolcano({id:'as-hc',title:'AS.vs.HC',titleX:625.7,titleY:600,box:[625.7,609,907.9,994.6],xZero:767,xUnit:16,yZero:977.4,yUnit:25.3,rBase:5.5,rStep:1.5,xTicks:[-5,0,5],xDec:0,yTicks:[0,5,10],yDec:0,xTickY:1010,xTitle:[767,1035.6],yTitle:[577,801],fc:.58,pThresh:1.3,up:upAsHc,dw:dwAsHc,ns:nsAsHc,mass:massAsHc,deX:929,deY:658.6,dotX:943.6,textX:959,itemY:[686,719,752],deItems:['UP:38','DW:30','NoDiff:2527'],vipX:927.5,vipY:825,vipLabels:['1','2','3','4'],vipDots:[854,885.5,917,948],vipR:[7.5,9,11,12.5],vipTextX:967});
drawVolcano({id:'mm-hc',title:'MM.vs.HC',titleX:633.6,titleY:1124.3,box:[622.9,1139,906.8,1540.7],xZero:764.6,xUnit:25.8,yZero:1522.3,yUnit:29.87,rBase:5.2,rStep:2.5,xTicks:[-5,-2.5,0,2.5,5],xDec:1,yTicks:[0,2.5,5,7.5,10,12.5],yDec:1,xTickY:1559.3,xTitle:[771,1580],yTitle:[559.6,1343.3],fc:.58,pThresh:1.3,up:upMmHc,dw:dwMmHc,ns:nsMmHc,mass:massMmHc,upCore:upCoreMmHc,upCoreAlpha:.8,deX:927,deY:1229.3,dotX:943,textX:963,itemY:[1258.3,1291,1324],deItems:['UP:200','DW:23','NoDiff:2372'],vipX:929,vipY:1393.3,vipLabels:['1','2'],vipDots:[1427.3,1459.3],vipR:[9.5,12],vipTextX:967});
drawVolcano({id:'mm-koa',title:'MM.vs.KOA',titleX:623,titleY:1647,box:[622.9,1672.7,909,2053.6],xZero:764.6,xUnit:32.25,yZero:2036.7,yUnit:42.6,rBase:4.5,rStep:2.5,xTicks:[-4,-2,0,2,4],xDec:0,yTicks:[0,2,4,6,8],yDec:0,xTickY:2068.5,xTitle:[773,2097],yTitle:[577.5,1849],fc:.58,pThresh:1.3,up:upMmKoa,dw:dwMmKoa,ns:nsMmKoa,mass:massMmKoa,upCore:upCoreMmKoa,upCoreAlpha:.5,deX:924.6,deY:1713,dotX:943.6,textX:959,itemY:[1740.8,1771.8,1803.5],deItems:['UP:96','DW:32','NoDiff:2467'],vipX:929,vipY:1874,vipLabels:['0.5','1.0','1.5','2.0','2.5'],vipDots:[1901,1932,1963,1994,2025],vipR:[6,7.5,9,10.5,12],vipTextX:967});
drawVolcano({id:'mm-as',title:'MM.vs.AS',titleX:638,titleY:2200,box:[626.4,2210,909,2597],xZero:767.5,xUnit:21.5,yZero:2578.7,yUnit:24.17,rBase:5.5,rStep:1.7,xTicks:[-6,-3,0,3,6],xDec:0,yTicks:[0,5,10,15],yDec:0,xTickY:2612.6,xTitle:[777,2637],yTitle:[577.5,2399],fc:.58,pThresh:1.3,up:upMmAs,dw:dwMmAs,ns:nsMmAs,mass:massMmAs,upCore:upCoreMmAs,upCoreAlpha:.65,deX:927,deY:2284,dotX:941,textX:963,itemY:[2314.5,2346,2378],deItems:['UP:277','DW:43','NoDiff:2275'],vipX:922,vipY:2451,vipLabels:['1','2','3'],vipDots:[2477.6,2508.6,2540],vipR:[7.5,9.5,12],vipTextX:967});

drawBubble({id:'koa-hc',title:'KOA.vs.HC',titleY:71.6,box:[1584.5,78.5,1921.6,475],xTicks:[0,.1,.2,.3,.4],xLabels:['0','0.1','0.2','0.3','0.4'],xPx:[1584.5,1921.6],rowTop:87,rowBottom:475,xTickY:497,labelRight:1571.5,paths:pathsKoaHc,ratio:ratioKoaHc,number:numberKoaHc,pval:pvalKoaHc,pTicks:pTicksKoaHc,rBase:10,rStep:0,ratioPos:[1200,287],numX:1944,numY:91,numLabels:['1'],numDots:[110],numR:[8.5],numDotX:1953,numTextX:1974,pvX:1944,pvY:167,bar:[1945.4,190.4,1963.3,482],barNudge:[0,-2],barTextX:1980});
drawBubble({id:'as-hc',title:'AS.vs.HC',titleY:599.3,box:[1582.8,611,1916.3,994],xTicks:[0,.05,.1,.15,.2],xLabels:['0','0.05','0.1','0.15','0.2'],xPx:[1582.8,1916.3],rowTop:621,rowBottom:994,xTickY:1015.3,labelRight:1571.5,paths:pathsAsHc,ratio:ratioAsHc,number:numberAsHc,pval:pvalAsHc,pTicks:pTicksAsHc,rBase:9.5,rStep:0,ratioPos:[1228,786.7],numX:1937,numY:621.7,numLabels:['1'],numDots:[642.3],numR:[8.5],numDotX:1946,numTextX:1968,pvX:1935,pvY:691.7,bar:[1939,717.3,1955.5,999.3],barNudge:[-3,-4],barTextX:1971});
drawBubble({id:'mm-hc',title:'MM.vs.HC',titleY:1124.3,box:[1579,1135.7,1917,1540.7],xTicks:[0,.25,.5,.75,1,1.25],xLabels:['0','0.25','0.5','0.75','1','1.25'],xPx:[1579,1917],rowTop:1138.3,rowBottom:1540.7,xTickY:1562.3,labelRight:1568.5,paths:pathsMmHc,ratio:ratioMmHc,number:numberMmHc,pval:pvalMmHc,pTicks:pTicksMmHc,rBase:2.5,rStep:2.75,ratioPos:[1214,1342.3],numX:1938,numY:1152.7,numLabels:['5','3','1'],numDots:[1177.3,1206.3,1224.3],numR:[15,8,2],numDotX:1956,numTextX:1977,pvX:1942,pvY:1261.7,bar:[1941,1282.7,1959,1542.7],barNudge:[8,-6],barTextX:1975});
drawBubble({id:'mm-koa',title:'MM.vs.KOA',titleY:1647.3,box:[1578,1665.3,1916.3,2069.7],xTicks:[0,.1,.2,.3,.4],xLabels:['0','0.1','0.2','0.3','0.4'],xPx:[1578,1916.3],rowTop:1667.3,rowBottom:2069.7,xTickY:2091.7,labelRight:1567,paths:pathsMmKoa,ratio:ratioMmKoa,number:numberMmKoa,pval:pvalMmKoa,pTicks:pTicksMmKoa,rBase:3,rStep:5.5,ratioPos:[1214,1865],numX:1938,numY:1677.3,numLabels:['3','2','1'],numDots:[1704,1733,1751],numR:[14.5,8,2],numDotX:1957,numTextX:1978,pvX:1935,pvY:1804,bar:[1940.7,1819,1958.5,2073.3],barNudge:[7,0],barTextX:1970});
drawBubble({id:'mm-as',title:'MM.vs.AS',titleY:2193.3,box:[1576.8,2201.7,1914.5,2605.3],xTicks:[-.25,0,.25,.5,.75,1,1.25],xLabels:['\u22120.25','0','0.25','0.5','0.75','1','1.25'],xPx:[1576.8,1914.5],rowTop:2215,rowBottom:2605.3,xTickY:2627.7,labelRight:1567,paths:pathsMmAs,ratio:ratioMmAs,number:numberMmAs,pval:pvalMmAs,pTicks:pTicksMmAs,rBase:2.2,rStep:1.63,ratioPos:[1214,2417.7],extraTick:'18',extraTickY:2206.7,numX:1934,numY:2212.7,numLabels:['8','5','1'],numDots:[2237.7,2266.7,2284.7],numR:[14.5,9,2],numDotX:1953,numTextX:1974,pvX:1935,pvY:2335,bar:[1939,2353.3,1956,2610],barNudge:[5,-5],barTextX:1965});
</script>
</body>
</html>
